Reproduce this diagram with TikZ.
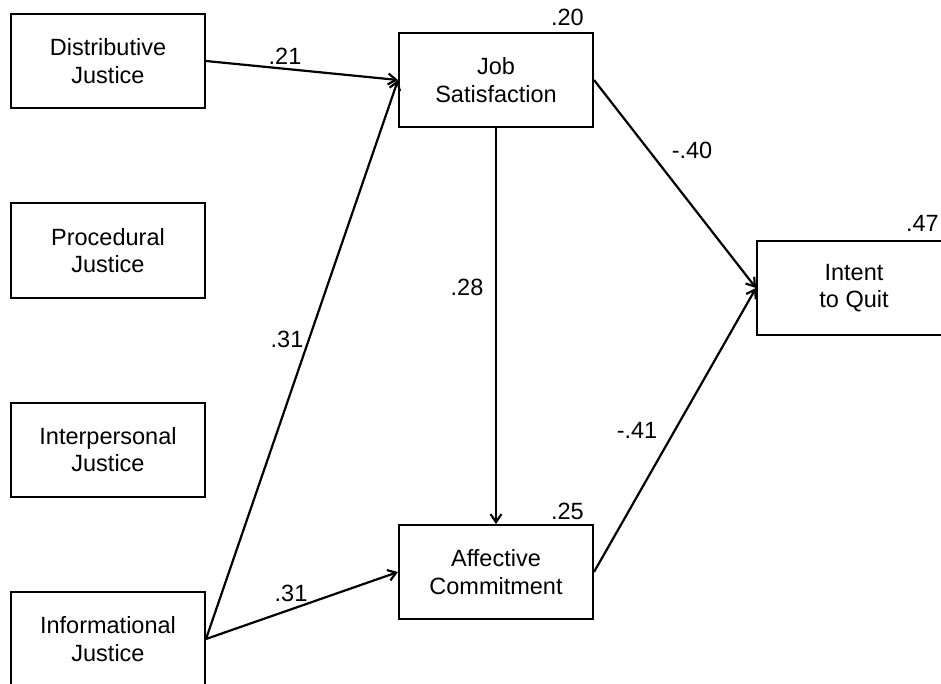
\documentclass[tikz,border=0pt]{standalone}
\usepackage{fontspec}
\setmainfont{Liberation Sans}
\usepackage{tikz}
\usetikzlibrary{arrows.meta,positioning}

\begin{document}
\begin{tikzpicture}[
  x=1pt,y=-1pt,
  box/.style={draw,line width=2pt,align=center,minimum width=194pt,minimum height=94pt,inner sep=0pt},
  arr/.style={-{Straight Barb[length=8pt,width=11pt]},line width=2.2pt},
  r2/.style={anchor=base east,inner sep=0pt},
  every node/.style={font=\fontsize{23.5}{27.5}\selectfont}]
  \useasboundingbox (0,0) rectangle (941,684);
  \node[box] (dist) at (108,61) {Distributive\\Justice};
  \node[box] (proc) at (108,250.5) {Procedural\\Justice};
  \node[box] (inter) at (108,449.5) {Interpersonal\\Justice};
  \node[box] (info) at (108,639) {Informational\\Justice};
  \node[box] (js) at (496,80) {Job\\Satisfaction};
  \node[box] (ac) at (496,572) {Affective\\Commitment};
  \node[box] (iq) at (854,288) {Intent\\to Quit};
  \node[r2] (r2js) at ([xshift=-10pt,yshift=6pt]js.north east) {.20};
  \node[r2] (r2ac) at ([xshift=-10pt,yshift=5pt]ac.north east) {.25};
  \node[r2] (r2iq) at ([xshift=-13pt,yshift=8pt]iq.north east) {.47};
  \draw[arr] (dist.east)--(js.west);
  \draw[arr] (info.east)--(js.west);
  \draw[arr] (info.east)--(ac.west);
  \draw[arr] (js.south)--(ac.north);
  \draw[arr] (js.east)--(iq.west);
  \draw[arr] (ac.east)--(iq.west);
  \node (b21) at (285,56) {.21};
  \node (b31a) at (287,339) {.31};
  \node (b31b) at (291,593) {.31};
  \node (b28) at (467,287) {.28};
  \node (b40) at (692,150) {-.40};
  \node (b41) at (637,430) {-.41};
\end{tikzpicture}
\end{document}
